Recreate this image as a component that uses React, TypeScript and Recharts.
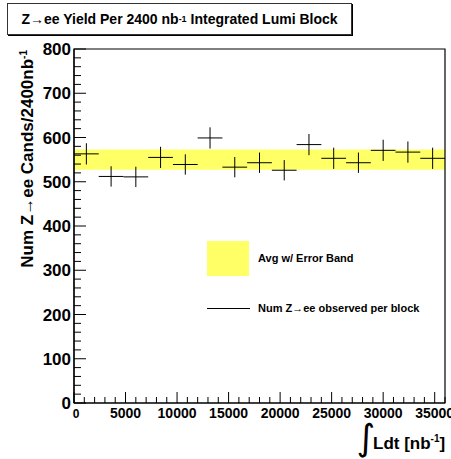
import React from 'react';
import { ComposedChart, Scatter, ErrorBar, XAxis, YAxis, ReferenceArea, Legend } from 'recharts';

// Z->ee candidates per 2400 nb^-1 block
const binCenters = [1200, 3600, 6000, 8400, 10800, 13200, 15600, 18000, 20400, 22800, 25200, 27600, 30000, 32400, 34800];
const yields = [563, 512, 511, 555, 539, 599, 533, 543, 526, 584, 553, 543, 571, 567, 553];
const yieldErrors = [24, 23, 23, 24, 23, 24, 23, 23, 23, 24, 24, 23, 24, 24, 24];
const binHalfWidth = 1200;

const avgYield = 550;
const avgError = 23;

const xMajorLabels = [0, 5000, 10000, 15000, 20000, 25000, 30000, 35000];
const yMajorLabels = [0, 100, 200, 300, 400, 500, 600, 700, 800];
const xTicks: number[] = [];
for (let v = 0; v <= 36000; v += 1000) xTicks.push(v);
const yTicks: number[] = [];
for (let v = 0; v <= 800; v += 20) yTicks.push(v);

const legendItems = [
  { label: 'Avg w/ Error Band', kind: 'box' },
  { label: 'Num Z\u2192ee observed per block', kind: 'line' },
];

const points = binCenters.map((x, i) => ({ x, y: yields[i], xErr: binHalfWidth, yErr: yieldErrors[i] }));

const FONT = 'Liberation Sans, Arial, Helvetica, sans-serif';
const BAND = '#ffff66';

const XTick = (props: any) => {
  const { x, y, payload } = props;
  const v = payload.value;
  const major = xMajorLabels.includes(v);
  return (
    <g>
      <line x1={x} x2={x} y1={y} y2={y - (major ? 11 : 6)} stroke="#000" />
      {major && (
        <text x={v === 0 ? x + 2 : x} y={y + 15} textAnchor="middle" fontFamily={FONT} fontWeight="bold" fontSize={v === 0 ? 12 : 14} fill="#000">
          {v}
        </text>
      )}
    </g>
  );
};

const YTick = (props: any) => {
  const { x, y, payload } = props;
  const v = payload.value;
  const major = yMajorLabels.includes(v);
  return (
    <g>
      <line x1={x} x2={x + (major ? 12 : 7)} y1={y} y2={y} stroke="#000" />
      {major && (
        <text x={x - 3} y={y + 6} textAnchor="end" fontFamily={FONT} fontWeight="bold" fontSize={17} fill="#000">
          {v}
        </text>
      )}
    </g>
  );
};

const YTitle = () => (
  <text transform="translate(33,50) rotate(-90)" textAnchor="end" fontFamily={FONT} fontWeight="bold" fontSize={17} fill="#000">
    Num Z{'\u2192'}ee Cands/2400nb
    <tspan dy={-6} fontSize={10}>-1</tspan>
  </text>
);

const XTitle = () => (
  <g fontFamily={FONT} fontWeight="bold" fill="#000">
    <text x={366} y={450} textAnchor="middle" fontSize={36} fontWeight="normal" fontFamily="DejaVu Sans">{'\u222B'}</text>
    <text x={373} y={449} fontSize={17}>
      Ldt [nb<tspan dy={-7} fontSize={10}>-1</tspan><tspan dy={7}>]</tspan>
    </text>
  </g>
);

const LegendBox = () => (
  <div style={{ position: 'relative', width: 240, height: 85, fontFamily: FONT, fontWeight: 'bold', fontSize: 11, color: '#000' }}>
    {legendItems.map((item, i) => (
      <React.Fragment key={item.label}>
        {item.kind === 'box' ? (
          <div style={{ position: 'absolute', left: 7, top: 5, width: 42, height: 35, background: BAND }} />
        ) : (
          <div style={{ position: 'absolute', left: 7, top: 72, width: 43, height: 1, background: '#000' }} />
        )}
        <div style={{ position: 'absolute', left: 58, top: i === 0 ? 15 : 65, whiteSpace: 'nowrap', lineHeight: '14px' }}>{item.label}</div>
      </React.Fragment>
    ))}
  </div>
);

export default function App() {
  return (
    <div style={{ position: 'absolute', left: 0, top: 0, width: 451, height: 459, background: '#fff', overflow: 'hidden' }}>
      <div
        style={{
          position: 'absolute', left: 7, top: 3, width: 343, height: 30, border: '1px solid #333',
          boxShadow: '1px 1px 0 #000', fontFamily: FONT, fontWeight: 'bold', fontSize: 14,
          display: 'flex', alignItems: 'center', justifyContent: 'center', whiteSpace: 'nowrap', zIndex: 2, background: '#fff',
        }}
      >
        Z{'\u2192'}ee Yield Per 2400 nb<sup style={{ fontSize: 9 }}>-1</sup>&nbsp;Integrated Lumi Block
      </div>
      <ComposedChart width={451} height={459} margin={{ top: 49, right: 6, left: 0, bottom: 0 }}>
        <XAxis
          type="number" dataKey="x" domain={[0, 36000]} ticks={xTicks} interval={0}
          tick={<XTick />} tickLine={false} tickSize={0} tickMargin={0} height={56}
          axisLine={{ stroke: '#000', strokeWidth: 1.2 }} allowDataOverflow
          label={{ content: () => <XTitle /> }}
        />
        <YAxis
          type="number" domain={[0, 800]} ticks={yTicks} interval={0}
          tick={<YTick />} tickLine={false} tickSize={0} tickMargin={0} width={74}
          axisLine={{ stroke: '#000', strokeWidth: 1.2 }} allowDataOverflow
          label={{ content: () => <YTitle /> }}
        />
        <ReferenceArea x1={0} x2={36000} y1={avgYield - avgError} y2={avgYield + avgError} fill={BAND} fillOpacity={1} stroke="none" />
        <ReferenceArea x1={0} x2={36000} y1={0} y2={800} fill="none" stroke="#000" strokeWidth={1.2} />
        <Scatter data={points} dataKey="y" shape={() => <g />} isAnimationActive={false}>
          <ErrorBar dataKey="xErr" direction="x" width={0} stroke="#000" strokeWidth={1} isAnimationActive={false} />
          <ErrorBar dataKey="yErr" direction="y" width={0} stroke="#000" strokeWidth={1} isAnimationActive={false} />
        </Scatter>
        <Legend
          layout="horizontal" verticalAlign="middle" align="center"
          wrapperStyle={{ left: 200, top: 236, width: 245 }}
          content={() => <LegendBox />}
        />
      </ComposedChart>
    </div>
  );
}
